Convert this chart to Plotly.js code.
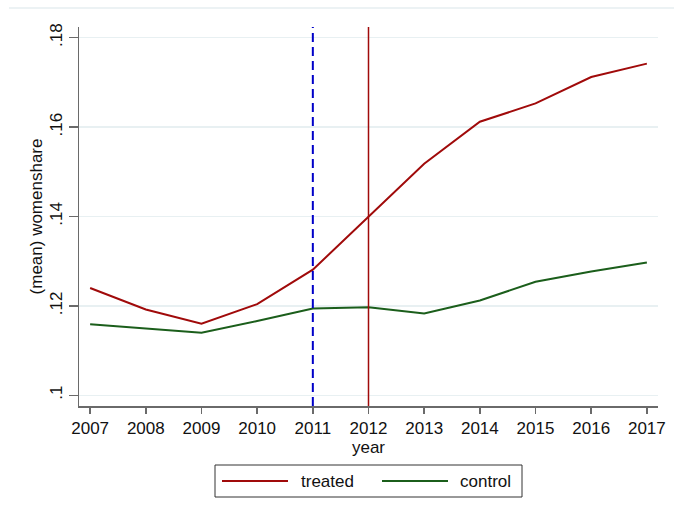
<!DOCTYPE html>
<html>
<head>
<meta charset="utf-8">
<script src="https://cdn.plot.ly/plotly-3.0.1.min.js"></script>
<style>
  html, body { margin: 0; padding: 0; background: #ffffff; }
  #chart { width: 674px; height: 518px; }
</style>
</head>
<body>
<div id="chart"></div>
<script>
// Mean share of women by year, treated vs control groups
const years = [2007, 2008, 2009, 2010, 2011, 2012, 2013, 2014, 2015, 2016, 2017];
const treated = [0.1240, 0.1192, 0.1160, 0.1204, 0.1281, 0.1399, 0.1518, 0.1612, 0.1653, 0.1712, 0.1742];
const control = [0.1159, 0.1149, 0.1140, 0.1166, 0.1194, 0.1197, 0.1183, 0.1212, 0.1254, 0.1277, 0.1297];
const yTickVals = [0.10, 0.12, 0.14, 0.16, 0.18];
const yTickText = ['.1', '.12', '.14', '.16', '.18'];
const announceYear = 2011;   // dashed reference line
const reformYear = 2012;     // solid reference line
const seriesNames = ['treated', 'control'];

const RED = '#a00a0a';
const GREEN = '#1b5e1b';
const BLUE = '#0000c8';
const AXIS = '#6a6a6a';
const FONT = 'Arial, "Liberation Sans", sans-serif';

// plot area in pixels, used to place the hand-drawn legend box
const W = 674, H = 518;
const M = { l: 79, r: 16, t: 27, b: 112 };
const pw = W - M.l - M.r, ph = H - M.t - M.b;
const px = v => (v - M.l) / pw;
const py = v => (H - M.b - v) / ph;

const traces = [
  { x: years, y: treated, name: seriesNames[0], type: 'scatter', mode: 'lines',
    line: { color: RED, width: 2 }, showlegend: false },
  { x: years, y: control, name: seriesNames[1], type: 'scatter', mode: 'lines',
    line: { color: GREEN, width: 2 }, showlegend: false }
];

const legendY = py(481);
const shapes = [
  // faint outer rule across the top of the graph region
  { type: 'line', xref: 'paper', yref: 'paper', x0: px(9), x1: px(674), y0: py(8), y1: py(8),
    line: { color: '#e6eef0', width: 1.5 } },
  // reference lines
  { type: 'line', xref: 'x', yref: 'paper', x0: announceYear, x1: announceYear, y0: 0, y1: 1,
    line: { color: BLUE, width: 2, dash: '9px,5px' } },
  { type: 'line', xref: 'x', yref: 'paper', x0: reformYear, x1: reformYear, y0: 0, y1: 1,
    line: { color: RED, width: 1.5 } },
  // legend frame and keys
  { type: 'rect', xref: 'paper', yref: 'paper', x0: px(215), x1: px(522), y0: py(497), y1: py(465),
    line: { color: '#333333', width: 1 }, fillcolor: 'rgba(0,0,0,0)' },
  { type: 'line', xref: 'paper', yref: 'paper', x0: px(222), x1: px(288), y0: legendY, y1: legendY,
    line: { color: RED, width: 2 } },
  { type: 'line', xref: 'paper', yref: 'paper', x0: px(382), x1: px(448), y0: legendY, y1: legendY,
    line: { color: GREEN, width: 2 } }
];

const annotations = [
  { xref: 'paper', yref: 'paper', x: px(299), y: legendY, xanchor: 'left', yanchor: 'middle',
    text: seriesNames[0], showarrow: false, font: { family: FONT, size: 17, color: '#111111' } },
  { xref: 'paper', yref: 'paper', x: px(458), y: legendY, xanchor: 'left', yanchor: 'middle',
    text: seriesNames[1], showarrow: false, font: { family: FONT, size: 17, color: '#111111' } }
];

const layout = {
  width: W, height: H,
  margin: M,
  paper_bgcolor: '#ffffff',
  plot_bgcolor: '#ffffff',
  font: { family: FONT, size: 17, color: '#111111' },
  showlegend: false,
  xaxis: {
    range: [2006.8, 2017.2],
    tickvals: years,
    ticktext: years.map(String),
    showgrid: false,
    zeroline: false,
    showline: true, linecolor: AXIS, linewidth: 1.5,
    ticks: 'outside', ticklen: 6, tickcolor: AXIS, tickwidth: 1.5,
    tickfont: { family: FONT, size: 17, color: '#111111' },
    title: { text: 'year', font: { family: FONT, size: 17, color: '#111111' }, standoff: 0 }
  },
  yaxis: {
    range: [0.0976, 0.1824],
    tickvals: yTickVals,
    ticktext: yTickText,
    tickangle: -90,
    showgrid: true, gridcolor: '#e8f0f2', gridwidth: 1.5,
    zeroline: false,
    showline: true, linecolor: AXIS, linewidth: 1.5,
    ticks: 'outside', ticklen: 9, tickcolor: AXIS, tickwidth: 1.5,
    tickfont: { family: FONT, size: 17, color: '#111111' },
    title: { text: '(mean) womenshare', font: { family: FONT, size: 17, color: '#111111' }, standoff: 0 }
  },
  shapes: shapes,
  annotations: annotations
};

Plotly.newPlot('chart', traces, layout, { displayModeBar: false, staticPlot: true });
</script>
</body>
</html>
